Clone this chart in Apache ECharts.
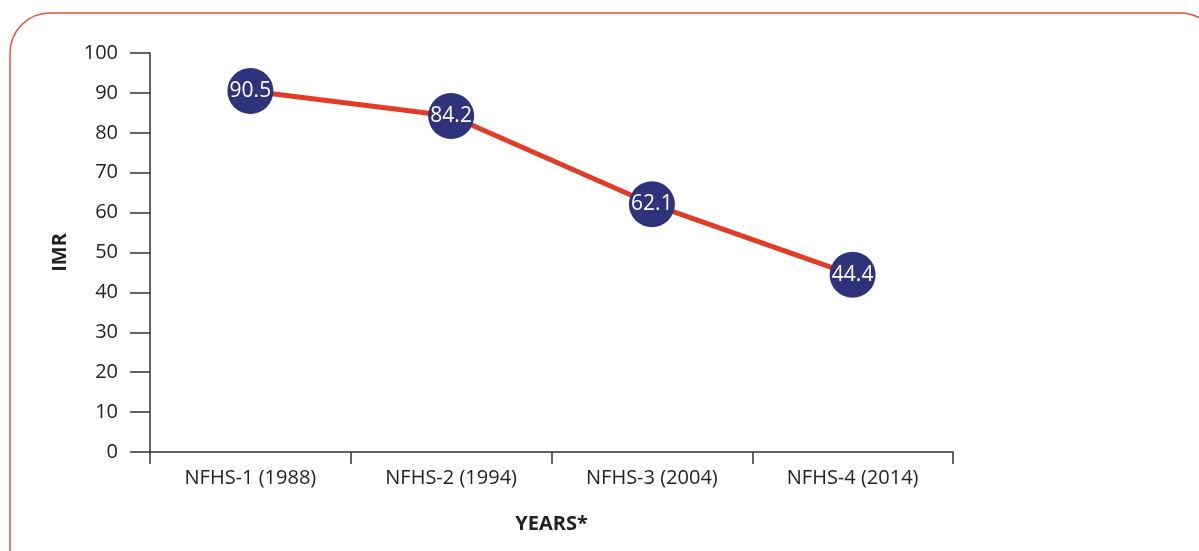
<!DOCTYPE html>
<html>
<head>
<meta charset="utf-8">
<script src="https://cdn.jsdelivr.net/npm/echarts@6/dist/echarts.min.js"></script>
<style>
html,body{margin:0;padding:0;background:#fff;}
#c{width:1199px;height:551px;}
</style>
</head>
<body>
<div id="c"></div>
<script>
var categories = ['NFHS-1 (1988)', 'NFHS-2 (1994)', 'NFHS-3 (2004)', 'NFHS-4 (2014)'];
var imrValues = [90.5, 84.2, 62.1, 44.4];
var yAxisName = 'IMR';
var xAxisName = 'YEARS*';

var chart = echarts.init(document.getElementById('c'));
var font = '"Open Sans", sans-serif';
chart.setOption({
  animation: false,
  backgroundColor: '#ffffff',
  graphic: [{
    type: 'rect',
    shape: { x: 10, y: 13, width: 1210, height: 580, r: 40 },
    style: { fill: 'none', stroke: '#e8503a', lineWidth: 1.5 },
    silent: true
  }],
  grid: { left: 150, right: 246, top: 53, bottom: 99, containLabel: false },
  xAxis: {
    type: 'category',
    data: categories,
    boundaryGap: true,
    name: xAxisName,
    nameLocation: 'middle',
    nameGap: 62,
    nameTextStyle: { fontFamily: font, fontSize: 20, fontWeight: 'bold', color: '#222' },
    axisLine: { lineStyle: { color: '#333', width: 1.5 } },
    axisTick: { show: true, length: 12, alignWithLabel: false, lineStyle: { color: '#333', width: 1.5 } },
    axisLabel: { fontFamily: font, fontSize: 20, color: '#222', margin: 16 },
    splitLine: { show: false }
  },
  yAxis: {
    type: 'value',
    min: 0,
    max: 100,
    interval: 10,
    name: yAxisName,
    nameLocation: 'middle',
    nameGap: 80,
    nameTextStyle: { fontFamily: font, fontSize: 20, fontWeight: 'bold', color: '#222' },
    axisLine: { show: true, lineStyle: { color: '#333', width: 1.5 } },
    axisTick: { show: true, length: 20, lineStyle: { color: '#333', width: 1.5 } },
    axisLabel: { fontFamily: font, fontSize: 20, color: '#222', margin: 32 },
    splitLine: { show: false }
  },
  series: [{
    type: 'line',
    data: imrValues,
    symbol: 'circle',
    symbolSize: 46,
    lineStyle: { color: '#e03c26', width: 5 },
    itemStyle: { color: '#2f337b', borderWidth: 0 },
    label: {
      show: true,
      position: 'inside',
      color: '#ffffff',
      fontFamily: font,
      fontSize: 21
    },
    z: 3
  }]
});
</script>
</body>
</html>
